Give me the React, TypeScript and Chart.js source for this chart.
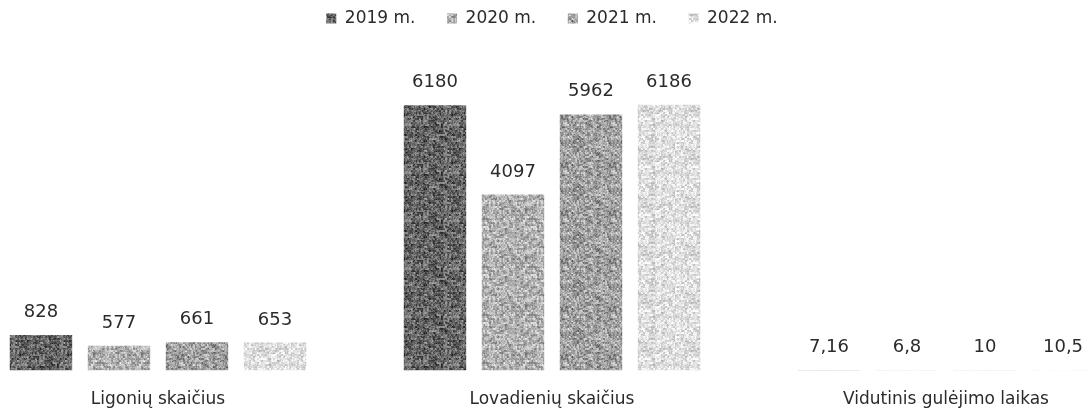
import React, { useEffect, useRef } from "react";
import { Chart, registerables } from "chart.js";

Chart.register(...registerables);

const categories = ["Ligonių skaičius", "Lovadienių skaičius", "Vidutinis gulėjimo laikas"];
const seriesLabels = ["2019 m.", "2020 m.", "2021 m.", "2022 m."];
const values2019 = [828, 6180, 7.16];
const values2020 = [577, 4097, 6.8];
const values2021 = [661, 5962, 10];
const values2022 = [653, 6186, 10.5];

const FONT = "'DejaVu Sans', sans-serif";
const TEXT_COLOR = "#2b2b2b";

function hash(x: number, y: number, s: number): number {
  let h = Math.imul(x, 374761393) + Math.imul(y, 668265263) + Math.imul(s, 982451653);
  h = Math.imul(h ^ (h >>> 13), 1274126177);
  h = h ^ (h >>> 16);
  return (h >>> 0) / 4294967295;
}

function makePattern(base: number, amp: number, seed: number): CanvasPattern | string {
  const size = 48;
  const c = document.createElement("canvas");
  c.width = size;
  c.height = size;
  const ctx = c.getContext("2d");
  if (!ctx) return `rgb(${base},${base},${base})`;
  const img = ctx.createImageData(size, size);
  for (let y = 0; y < size; y++) {
    for (let x = 0; x < size; x++) {
      const n1 = hash(x >> 1, y >> 1, seed);
      const n2 = hash(x, y, seed + 7);
      const n3 = hash((x + 1) >> 2, (y + 2) >> 1, seed + 13);
      const n = n1 * 0.45 + n2 * 0.3 + n3 * 0.25;
      let v = base + (n - 0.5) * amp * 1.8;
      v = Math.max(0, Math.min(255, v));
      const i = (y * size + x) * 4;
      img.data[i] = v;
      img.data[i + 1] = v;
      img.data[i + 2] = v;
      img.data[i + 3] = 255;
    }
  }
  ctx.putImageData(img, 0, 0);
  const p = ctx.createPattern(c, "repeat");
  return p || `rgb(${base},${base},${base})`;
}

function fmt(v: number): string {
  return String(v).replace(".", ",");
}

const dataLabelPlugin = {
  id: "dataLabels",
  afterDatasetsDraw(chart: any) {
    const ctx = chart.ctx;
    ctx.save();
    ctx.font = `18px ${FONT}`;
    ctx.fillStyle = TEXT_COLOR;
    ctx.textAlign = "center";
    ctx.textBaseline = "alphabetic";
    chart.data.datasets.forEach((ds: any, di: number) => {
      const meta = chart.getDatasetMeta(di);
      meta.data.forEach((bar: any, i: number) => {
        const v = ds.data[i];
        ctx.fillText(fmt(v), bar.x, bar.y - 18);
      });
    });
    ctx.restore();
  },
};

export default function App() {
  const ref = useRef<HTMLCanvasElement | null>(null);

  useEffect(() => {
    if (!ref.current) return;
    const patterns = [
      makePattern(100, 95, 11),
      makePattern(178, 80, 23),
      makePattern(160, 90, 37),
      makePattern(222, 60, 51),
    ];
    const seriesValues = [values2019, values2020, values2021, values2022];
    const chart = new Chart(ref.current, {
      type: "bar",
      data: {
        labels: categories,
        datasets: seriesLabels.map((label, i) => ({
          label,
          data: seriesValues[i],
          backgroundColor: patterns[i] as any,
          borderWidth: 0,
          categoryPercentage: 0.792,
          barPercentage: 0.8,
        })),
      },
      options: {
        responsive: false,
        animation: false,
        devicePixelRatio: 1,
        layout: { padding: { top: 0, bottom: 5, left: 0, right: 0 } },
        plugins: {
          tooltip: { enabled: false },
          legend: {
            display: true,
            position: "top",
            labels: {
              font: { family: FONT, size: 17 },
              color: TEXT_COLOR,
              boxWidth: 10,
              boxHeight: 10,
              padding: 10,
              generateLabels: (chart: any) => {
                const items = Chart.defaults.plugins.legend.labels.generateLabels(chart);
                return items.map((it: any, i: number) => ({
                  ...it,
                  text: i < items.length - 1 ? it.text + "    " : it.text,
                  lineWidth: 0,
                }));
              },
            },
          },
        },
        scales: {
          x: {
            offset: true,
            grid: { display: false, drawTicks: false },
            border: { display: false },
            ticks: {
              font: { family: FONT, size: 17 },
              color: TEXT_COLOR,
              padding: 19,
              maxRotation: 0,
              autoSkip: false,
            },
          },
          y: {
            display: false,
            min: 0,
            max: 7766,
          },
        },
      },
      plugins: [dataLabelPlugin],
    });
    return () => chart.destroy();
  }, []);

  return (
    <div style={{ position: "fixed", left: -39, top: 0, width: 1182, height: 434 }}>
      <canvas ref={ref} width={1182} height={434} style={{ width: 1182, height: 434, display: "block" }} />
    </div>
  );
}
